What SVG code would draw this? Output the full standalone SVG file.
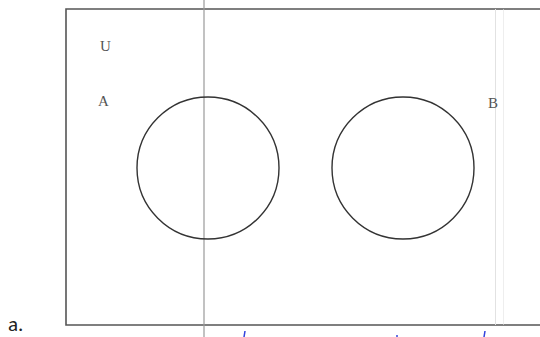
<svg xmlns="http://www.w3.org/2000/svg" width="540" height="337" viewBox="0 0 540 337">
<style>
.frame{stroke:#555;stroke-width:1.6;fill:none}
.circ{stroke:#333;stroke-width:1.4;fill:none}
.lbl{font-family:"Liberation Serif","DejaVu Serif",serif;font-size:15px;fill:#555}
.faint{stroke:#e2e2e2;stroke-width:1}
</style>
<rect width="540" height="337" fill="#fff"/>
<g id="universe">
<path class="frame" d="M540,9 H66 V325 H540"/>
<line class="faint" x1="495.5" y1="9" x2="495.5" y2="325"/>
<line class="faint" x1="503.5" y1="9" x2="503.5" y2="325" stroke-opacity="0.6"/>
<text class="lbl" x="100" y="51">U</text>
</g>
<line x1="204" y1="0" x2="204" y2="337" stroke="#999" stroke-width="1.2"/>
<g id="setA">
<circle class="circ" cx="208" cy="168" r="71"/>
<text class="lbl" x="98" y="106">A</text>
</g>
<g id="setB">
<circle class="circ" cx="403" cy="168" r="71"/>
<text class="lbl" x="488" y="108">B</text>
</g>
<g id="connectors"></g>
<text x="8" y="331" font-family="Carlito,'Liberation Sans',sans-serif" font-size="21" fill="#222">a.</text>
<g stroke="#3344dd" stroke-width="1.5">
<line x1="245" y1="331" x2="244" y2="337"/>
<line x1="397" y1="335" x2="397" y2="337"/>
<line x1="485" y1="331" x2="484" y2="337"/>
</g>
</svg>
